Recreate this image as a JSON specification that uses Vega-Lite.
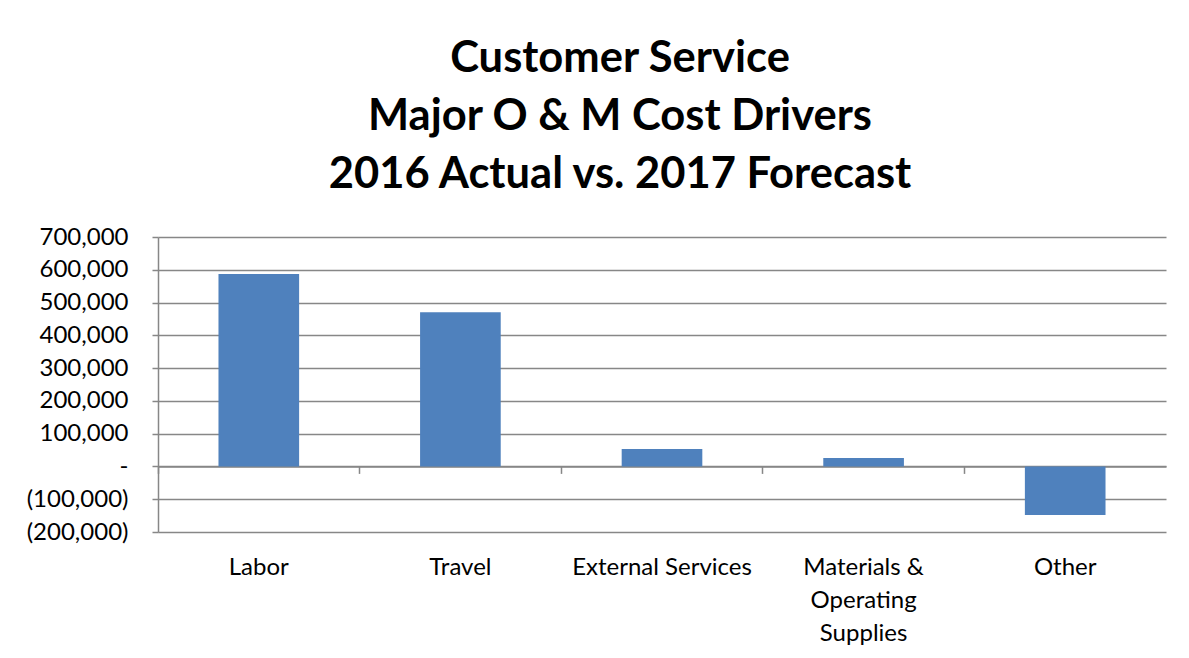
{
  "$schema": "https://vega.github.io/schema/vega-lite/v6.json",
  "autosize": "none",
  "width": 1008,
  "height": 295,
  "padding": {"left": 158, "top": 237, "right": 23, "bottom": 126},
  "background": "white",
  "title": {
    "text": ["Customer Service", "Major O & M Cost Drivers", "2016 Actual vs. 2017 Forecast"],
    "font": "Lato",
    "fontSize": 43.5,
    "fontWeight": "bold",
    "color": "#000000",
    "lineHeight": 58,
    "anchor": "middle",
    "frame": "group",
    "dx": -42,
    "offset": 28
  },
  "data": {
    "values": [
      {"category": "Labor", "value": 587500},
      {"category": "Travel", "value": 470500},
      {"category": "External Services", "value": 53000},
      {"category": "Materials & Operating Supplies", "value": 25600},
      {"category": "Other", "value": -148000}
    ]
  },
  "config": {
    "view": {"stroke": null},
    "axis": {"labelFont": "Lato", "labelFontSize": 24, "labelColor": "#000000", "titleFont": "Lato", "labelOverlap": false}
  },
  "resolve": {"axis": {"x": "independent"}},
  "layer": [
    {
      "mark": {"type": "bar", "color": "#4F81BD", "width": {"band": 0.4}},
      "encoding": {
        "x": {
          "field": "category",
          "type": "nominal",
          "sort": null,
          "scale": {"paddingInner": 0, "paddingOuter": 0},
          "axis": {
            "title": null,
            "orient": "bottom",
            "domain": false,
            "ticks": false,
            "grid": false,
            "labelAngle": 0,
            "labelPadding": 23,
            "labelLineHeight": 33,
            "labelExpr": "datum.label == 'Materials & Operating Supplies' ? ['Materials &', 'Operating', 'Supplies'] : datum.label"
          }
        },
        "y": {
          "field": "value",
          "type": "quantitative",
          "scale": {"domain": [-200000, 700000], "nice": false, "zero": false},
          "axis": {
            "title": null,
            "values": [-200000, -100000, 0, 100000, 200000, 300000, 400000, 500000, 600000, 700000],
            "grid": true,
            "gridColor": "#878787",
            "gridWidth": 1.5,
            "domain": true,
            "domainColor": "#878787",
            "domainWidth": 1.5,
            "ticks": true,
            "tickColor": "#878787",
            "tickWidth": 1.5,
            "tickSize": 6,
            "labelPadding": 24,
            "labelOverlap": false,
            "labelExpr": "datum.value == 0 ? '-' : (datum.value < 0 ? '(' + format(-datum.value, ',') + ')' : format(datum.value, ','))"
          }
        }
      }
    },
    {
      "mark": {"type": "bar", "opacity": 0},
      "encoding": {
        "x": {
          "field": "category",
          "type": "nominal",
          "sort": null,
          "axis": {
            "title": null,
            "orient": "bottom",
            "offset": -65.6,
            "labels": false,
            "grid": false,
            "domain": true,
            "domainColor": "#878787",
            "domainWidth": 1.5,
            "ticks": true,
            "tickColor": "#878787",
            "tickWidth": 1.5,
            "tickSize": 7,
            "bandPosition": 0
          }
        }
      }
    }
  ]
}
